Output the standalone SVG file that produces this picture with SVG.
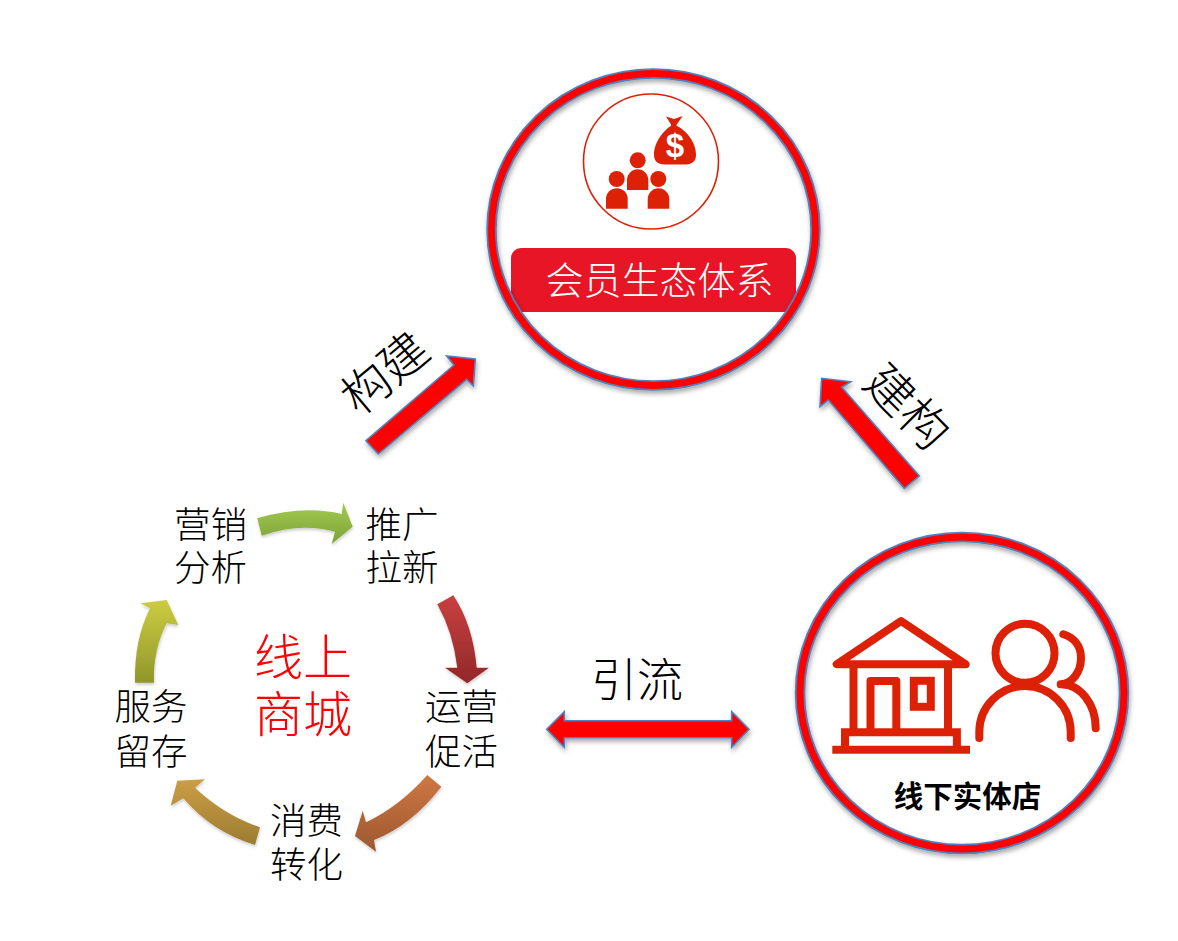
<svg xmlns="http://www.w3.org/2000/svg" width="1178" height="941" viewBox="0 0 1178 941">
<style>
text{font-family:"Noto Sans CJK SC","Noto Sans",sans-serif;text-anchor:middle}
.lbl{font-size:36.5px;fill:#000;font-weight:300}
.ring-b{fill:none;stroke:#4f81bd;stroke-width:10.5}
.ring-r{fill:none;stroke:#f00;stroke-width:6.8}
.ic{fill:#dc2106}
.ln{fill:none;stroke:#dc2106;stroke-width:8;stroke-linecap:round;stroke-linejoin:round}
.arw{fill:#f00;stroke:#4f81bd;stroke-width:1.6;stroke-linejoin:miter;filter:url(#sh)}
</style>
<defs>
<filter id="sh" x="-20%" y="-20%" width="140%" height="140%"><feDropShadow dx="1" dy="3" stdDeviation="2.5" flood-color="#000" flood-opacity=".35"/></filter>
<filter id="sh2" x="-20%" y="-20%" width="140%" height="140%"><feDropShadow dx="0.5" dy="2" stdDeviation="1.5" flood-color="#000" flood-opacity=".2"/></filter>
<linearGradient id="gG" x1="0" y1="0" x2="0" y2="1"><stop offset="0" stop-color="#a4cb50"/><stop offset="1" stop-color="#7ca138"/></linearGradient>
<linearGradient id="gR" x1="0" y1="0" x2="0" y2="1"><stop offset="0" stop-color="#c94040"/><stop offset="1" stop-color="#922828"/></linearGradient>
<linearGradient id="gO" x1="0" y1="0" x2="0" y2="1"><stop offset="0" stop-color="#cf7742"/><stop offset="1" stop-color="#9c5830"/></linearGradient>
<linearGradient id="gT" x1="0" y1="0" x2="0" y2="1"><stop offset="0" stop-color="#cb9e46"/><stop offset="1" stop-color="#9c7c32"/></linearGradient>
<linearGradient id="gY" x1="0" y1="0" x2="0" y2="1"><stop offset="0" stop-color="#cdcc42"/><stop offset="1" stop-color="#8f972a"/></linearGradient>
<clipPath id="c1"><ellipse cx="653.5" cy="229.5" rx="160" ry="154"/></clipPath>
</defs>

<g id="member-node">
<g clip-path="url(#c1)"><path d="M511,312V258a10,10 0 0 1 10,-10H786a10,10 0 0 1 10,10V312Z" fill="#e81526"/></g>
<g filter="url(#sh)"><ellipse class="ring-b" cx="653.5" cy="229.5" rx="162" ry="156"/><ellipse class="ring-r" cx="653.5" cy="229.5" rx="162" ry="156"/></g>
<circle cx="651" cy="161.5" r="67.5" fill="none" stroke="#dc2106" stroke-width="1.6"/>
<path class="ic" d="M666,116.5l8,2.5 8.700,-3 -6,8.500 0,1.500C686,130 696,142 696,155 696,161 692,164.500 686,164.500H664C658,164.500 654,161 654,155 654,142 664,130 671,126l0,-1.500Z"/>
<text x="675" y="157" font-size="33" font-weight="700" fill="#fff" style="font-family:'Liberation Sans',sans-serif">$</text>
<circle class="ic" cx="637.7" cy="160.3" r="8"/>
<path class="ic" d="M627,190V180a10.6,10.6 0 0 1 21.3,0V190Z"/>
<circle class="ic" cx="616.7" cy="179" r="8"/>
<path class="ic" d="M606,208.7V199a10.8,10.8 0 0 1 21.7,0V208.7Z"/>
<circle class="ic" cx="658.3" cy="179" r="8"/>
<path class="ic" d="M647.7,208.7V199a10.8,10.8 0 0 1 21.6,0V208.7Z"/>
<text x="659.5" y="294" font-size="38" font-weight="300" fill="#fff">会员生态体系</text>
</g>

<g id="store-node">
<g filter="url(#sh)"><ellipse class="ring-b" cx="962" cy="693" rx="162" ry="156"/><ellipse class="ring-r" cx="962" cy="693" rx="162" ry="156"/></g>
<path class="ln" d="M901,621L836.7,664.3H965.7Z"/>
<path class="ln" d="M853.5,664V732M948,664V732M870.5,732V681H896.3V732" style="stroke-linecap:butt"/>
<rect x="913.8" y="680.8" width="17" height="26" class="ln" style="stroke-linejoin:miter"/>
<path class="ln" d="M832.3,749.8H970M845,749.8V732.3H956.9V749.8" style="stroke-linecap:butt;stroke-linejoin:miter"/>
<circle class="ln" cx="1025" cy="653.3" r="29.5"/>
<path class="ln" d="M979.3,738V732A45.7,46 0 0 1 1070.7,732V738"/>
<path class="ln" d="M1063.3,634.3C1075,638 1081,647 1081,658 1081,672 1072,684 1060.7,684.3C1080,684 1095.7,704 1095.7,728.3"/>
<text x="967.5" y="807" font-size="29.5" font-weight="700" fill="#000">线下实体店</text>
</g>

<g id="mall-node">
<text x="210.5" y="538" class="lbl">营销</text>
<text x="210.5" y="581" class="lbl">分析</text>
<text x="402" y="538" class="lbl">推广</text>
<text x="402" y="581" class="lbl">拉新</text>
<text x="461.5" y="720" class="lbl">运营</text>
<text x="461.5" y="765" class="lbl">促活</text>
<text x="306.5" y="834" class="lbl">消费</text>
<text x="306.5" y="878" class="lbl">转化</text>
<text x="151" y="720" class="lbl">服务</text>
<text x="151" y="765" class="lbl">留存</text>
<text x="303" y="675" font-size="49" font-weight="300" fill="#f00">线上</text>
<text x="303" y="732" font-size="49" font-weight="300" fill="#f00">商城</text>
<g filter="url(#sh2)">
<path fill="url(#gG)" d="M257.3,518.3Q303,505 341.7,514L343.3,502.7 352.7,526.7 331.7,544 335,531.7Q300,522 261.7,535.7Z"/>
<path fill="url(#gR)" d="M437.3,604.3L453.3,595.3Q473,625 476.7,667.7H489L467.3,683.3 445,667.7H457.3Q453,632 437.3,604.3Z"/>
<path fill="url(#gO)" d="M427.3,775L441.3,786.7Q412,825 374,840L376,851.7 355,836 362.7,810.7 366,822.3Q400,806 427.3,775Z"/>
<path fill="url(#gT)" d="M260,827.3L255,845Q212,832 183.3,798.3L170.7,805.7 177.3,780.7 205,779.3 195,787.7Q224,815 260,827.3Z"/>
<path fill="url(#gY)" d="M135,682.7Q134,640 150,608.3L140.7,603.3 166.7,600 178.3,625 166.7,623.3Q153,650 154,682.7Z"/>
</g>
</g>

<g id="connectors">
<path class="arw" d="M366,440.7L454,365 446.7,356 475.3,359 473.3,386 466.7,379.3 378.3,454Z"/>
<path class="arw" d="M919.3,476L841.7,387.3 850.7,381.7 821.7,378.3 820,406.7 828.3,400 904.3,488.3Z"/>
<path class="arw" d="M546.7,729.3L564.3,711.7V720.7H731.7V711.7L749,729.3 731.7,747.3V737.7H564.3V747.3Z"/>
</g>

<g id="connector-labels">
<text x="637" y="696" font-size="46" font-weight="300" fill="#000">引流</text>
<text transform="translate(385,373) rotate(-40)" y="17" font-size="48" font-weight="300" fill="#000">构建</text>
<text transform="translate(907,407) rotate(45)" y="17" font-size="48" font-weight="300" fill="#000">建构</text>
</g>
</svg>
